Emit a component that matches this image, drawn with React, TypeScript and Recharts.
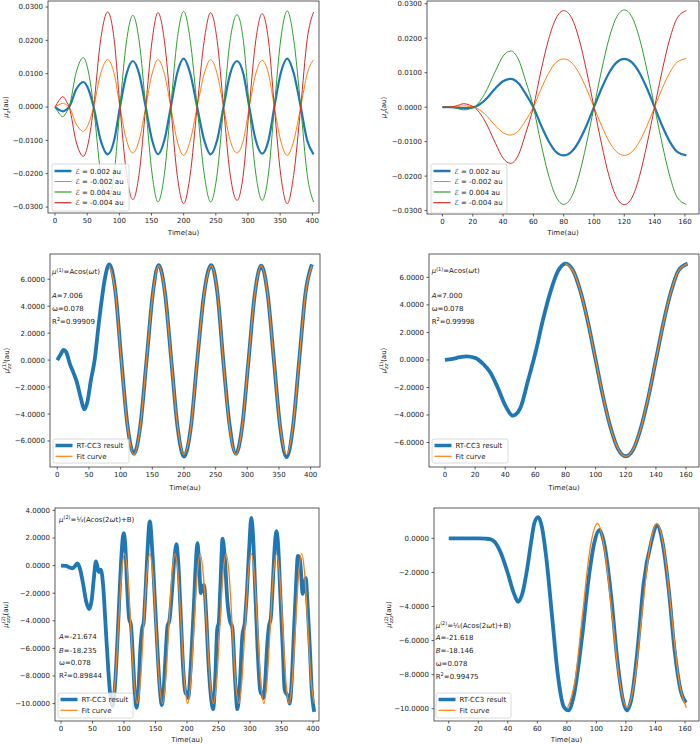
import React from 'react';
import { LineChart, Line, XAxis, YAxis } from 'recharts';

const BLUE = '#1f77b4';
const ORANGE = '#ff7f0e';
const GREEN = '#2ca02c';
const RED = '#d62728';
const FONT = '"DejaVu Sans", sans-serif';
const INK = '#222';

// ---- panel 1: mu_z, 0..400 au ----
const t1 = [0, 6, 12, 18, 22, 33, 44, 52, 60, 71, 82, 92, 101, 111, 121, 131, 141, 151, 160, 170, 180, 190, 200, 210, 221, 232, 242, 252, 262, 272, 283, 293, 302, 312, 322, 332, 341, 351, 361, 371, 382, 392, 402];
const p1Pos002 = [0, -0.0008, -0.0013, -0.0007, 0, 0.0053, 0.0075, 0.0053, 0, -0.0100, -0.0142, -0.0100, 0, 0.0098, 0.0138, 0.0098, 0, -0.0100, -0.0142, -0.0100, 0, 0.0102, 0.0145, 0.0102, 0, -0.0100, -0.0142, -0.0100, 0, 0.0098, 0.0138, 0.0098, 0, -0.0099, -0.0140, -0.0099, 0, 0.0102, 0.0145, 0.0102, 0, -0.0100, -0.0142];
const p1Neg002 = [0, 0.0007, 0.0011, 0.0006, 0, -0.0051, -0.0073, -0.0051, 0, 0.0100, 0.0142, 0.0100, 0, -0.0098, -0.0138, -0.0098, 0, 0.0100, 0.0142, 0.0100, 0, -0.0102, -0.0145, -0.0102, 0, 0.0100, 0.0142, 0.0100, 0, -0.0098, -0.0138, -0.0098, 0, 0.0099, 0.0140, 0.0099, 0, -0.0102, -0.0145, -0.0102, 0, 0.0100, 0.0142];
const p1Pos004 = [0, -0.0018, -0.0029, -0.0015, 0, 0.0105, 0.0148, 0.0105, 0, -0.0200, -0.0282, -0.0200, 0, 0.0195, 0.0275, 0.0195, 0, -0.0202, -0.0285, -0.0202, 0, 0.0203, 0.0287, 0.0203, 0, -0.0202, -0.0285, -0.0202, 0, 0.0196, 0.0277, 0.0196, 0, -0.0198, -0.0280, -0.0198, 0, 0.0204, 0.0288, 0.0204, 0, -0.0202, -0.0285];
const p1Neg004 = [0, 0.0019, 0.0031, 0.0016, 0, -0.0105, -0.0148, -0.0105, 0, 0.0202, 0.0285, 0.0202, 0, -0.0197, -0.0278, -0.0197, 0, 0.0200, 0.0283, 0.0200, 0, -0.0205, -0.0290, -0.0205, 0, 0.0200, 0.0283, 0.0200, 0, -0.0198, -0.0280, -0.0198, 0, 0.0198, 0.0280, 0.0198, 0, -0.0205, -0.0290, -0.0205, 0, 0.0202, 0.0285];

// ---- panel 2: mu_z, 0..160 au ----
const t2 = [0, 5, 10, 14, 18, 21, 28, 35, 40, 45, 50, 55, 60, 65, 70, 75, 80, 85, 90, 95, 100, 105, 110, 115, 120, 125, 130, 135, 140, 145, 150, 155, 161];
const p2Pos002 = [0, 0, -0.0002, -0.0003, -0.0002, 0, 0.0020, 0.0055, 0.0075, 0.0082, 0.0070, 0.0038, 0, -0.0052, -0.0098, -0.0130, -0.0140, -0.0130, -0.0100, -0.0054, 0, 0.0054, 0.0100, 0.0130, 0.0140, 0.0130, 0.0100, 0.0054, 0, -0.0054, -0.0100, -0.0130, -0.0140];
const p2Neg002 = [0, 0, 0.0002, 0.0004, 0.0002, 0, -0.0020, -0.0054, -0.0074, -0.0081, -0.0069, -0.0038, 0, 0.0052, 0.0098, 0.0130, 0.0140, 0.0130, 0.0100, 0.0054, 0, -0.0054, -0.0100, -0.0130, -0.0140, -0.0130, -0.0100, -0.0054, 0, 0.0054, 0.0100, 0.0131, 0.0141];
const p2Pos004 = [0, 0, -0.0004, -0.0008, -0.0005, 0, 0.0040, 0.0105, 0.0148, 0.0163, 0.0140, 0.0075, 0, -0.0105, -0.0197, -0.0260, -0.0282, -0.0262, -0.0200, -0.0107, 0, 0.0107, 0.0200, 0.0262, 0.0282, 0.0262, 0.0200, 0.0107, 0, -0.0107, -0.0200, -0.0262, -0.0282];
const p2Neg004 = [0, 0, 0.0005, 0.0010, 0.0006, 0, -0.0040, -0.0105, -0.0148, -0.0163, -0.0140, -0.0075, 0, 0.0105, 0.0196, 0.0258, 0.0280, 0.0261, 0.0200, 0.0107, 0, -0.0107, -0.0201, -0.0263, -0.0283, -0.0263, -0.0201, -0.0107, 0, 0.0106, 0.0198, 0.0259, 0.0280];

// ---- panel 3: mu(1)_zz, 0..400 au ----
const t3 = [0, 5, 10, 14, 20, 26, 31, 37, 43, 48, 53, 59, 65, 70, 75, 82, 92, 101, 111, 121, 131, 141, 151, 160, 170, 180, 190, 200, 211, 221, 232, 243, 253, 262, 272, 282, 292, 302, 312, 322, 332, 342, 352, 362, 372, 382, 392, 402];
const rt3 = [0, 0.4, 0.76, 0.6, -0.3, -1.0, -1.65, -2.8, -3.65, -3.0, -1.5, 0, 2.5, 4.4, 6.0, 7.1, 5.0, 0.1, -4.9, -6.95, -4.9, 0, 5.0, 7.05, 5.0, 0, -5.0, -7.15, -4.95, 0, 5.0, 7.05, 4.9, 0, -4.8, -6.95, -4.9, 0, 4.95, 7.0, 4.95, 0, -5.0, -7.2, -5.0, 0, 5.0, 7.1];
const fitT3 = [82, 92, 101, 111, 121, 131, 141, 151, 160, 170, 180, 190, 200, 211, 221, 232, 243, 253, 262, 272, 282, 292, 302, 312, 322, 332, 342, 352, 362, 372, 382, 392, 402];
const fit3 = [7.0, 4.95, 0, -4.95, -7.0, -4.95, 0, 4.95, 7.0, 4.95, 0, -4.95, -7.0, -4.95, 0, 4.95, 7.0, 4.95, 0, -4.95, -7.0, -4.95, 0, 4.95, 7.0, 4.95, 0, -4.95, -7.0, -4.95, 0, 4.95, 7.0];

// ---- panel 4: mu(1)_zz, 0..160 au ----
const t4 = [0, 5, 10, 14, 20, 25, 30, 35, 40, 45, 50, 55, 60, 65, 70, 75, 80, 85, 90, 95, 100, 105, 110, 115, 120, 125, 130, 135, 140, 145, 150, 155, 161];
const rt4 = [0, 0.08, 0.2, 0.26, 0.15, -0.25, -0.9, -2.0, -3.3, -4.05, -3.5, -1.55, 0.5, 2.9, 4.95, 6.45, 7.0, 6.5, 4.95, 2.7, 0, -2.7, -4.95, -6.5, -7.0, -6.5, -4.95, -2.7, 0, 2.7, 4.95, 6.5, 7.0];
const fitT4 = [80, 85, 90, 95, 100, 105, 110, 115, 120, 125, 130, 135, 140, 145, 150, 155, 161];
const fit4 = [7.0, 6.47, 4.95, 2.68, 0, -2.68, -4.95, -6.47, -7.0, -6.47, -4.95, -2.68, 0, 2.68, 4.95, 6.47, 7.0];

// ---- panel 5: mu(2)_zzz, 0..400 au ----
const t5 = [0, 8, 14, 18, 22, 26, 30, 35, 40, 45, 49, 52, 55.5, 58, 59.7, 63.4, 67, 71, 75, 79, 82, 86, 90, 93, 96, 99.5, 102, 105, 108, 111, 114, 117, 120, 123, 126, 129, 131, 134, 137, 141, 145, 149, 153, 157, 160, 163, 166, 169, 172, 176, 180, 183.4, 186, 190, 194, 198, 200, 202, 205, 208, 211, 214, 216.6, 219, 222, 224.5, 227, 230, 234, 238, 241.5, 245, 248, 250.5, 253, 256.5, 260, 264, 268, 272, 276, 280, 284, 288, 291.5, 295, 299, 302, 305, 308, 312, 316, 318, 319.5, 321, 324, 327, 330, 333, 336, 339, 342, 345, 348, 352, 355, 358, 360, 363, 366, 370, 373, 376, 379, 381, 383.5, 386, 388.5, 391, 395, 398, 402];
const rt5 = [0, -0.02, -0.15, -0.2, -0.05, 0.15, -0.2, -1.3, -2.6, -3.15, -2.4, -1.0, 0.3, -0.1, -0.45, -0.3, -1.5, -4.5, -7.5, -9.7, -10.2, -8.5, -5.0, -2.0, 0.8, 2.35, 1.5, -1.5, -3.8, -4.3, -6.5, -9.2, -10.3, -9.0, -6.0, -4.5, -4.2, -2.0, 0.8, 3.2, 1.0, -2.5, -6.0, -9.0, -10.1, -9.0, -6.5, -4.4, -4.0, -2.0, 0.5, 1.55, 0.3, -3.5, -7.5, -9.3, -9.2, -9.6, -8.0, -5.5, -2.8, 0.2, 1.62, 0.3, -2.0, -1.6, -1.4, -3.2, -7.0, -9.5, -10.4, -8.0, -4.6, -4.1, -1.5, 1.95, 0.5, -2.5, -4.0, -4.5, -8.0, -10.4, -8.5, -5.0, -4.2, -2.0, 1.5, 3.45, 2.0, -1.5, -6.0, -9.0, -9.3, -9.2, -9.6, -8.5, -6.0, -4.4, -3.8, -1.5, 1.2, 2.5, 1.2, -2.0, -6.0, -9.0, -9.3, -9.4, -10.0, -8.5, -4.5, -1.5, 0.7, 0.5, -0.5, -2.05, -1.6, -0.9, -2.5, -6.0, -9.0, -10.6];
const fitT5 = [81, 86, 91, 96, 101, 106, 111, 116, 121, 126, 131, 136, 141, 146, 151, 156, 161, 166, 171, 176, 181, 186, 191, 196, 201, 206, 211, 216, 221, 226, 231.5, 236.5, 242, 247, 252, 257, 262, 267, 272, 277, 282, 287, 292, 297, 302, 307, 312, 317, 322, 327, 332, 337, 342, 347, 352, 357, 362, 367, 372, 377, 382, 387, 392, 397, 402];
const fit5 = [-9.98, -8.39, -4.56, -0.73, 0.86, -0.73, -4.56, -8.39, -9.98, -8.39, -4.56, -0.73, 0.86, -0.73, -4.56, -8.39, -9.98, -8.39, -4.56, -0.73, 0.86, -0.73, -4.56, -8.39, -9.98, -8.39, -4.56, -0.73, 0.86, -0.73, -4.56, -8.39, -9.98, -8.39, -4.56, -0.73, 0.86, -0.73, -4.56, -8.39, -9.98, -8.39, -4.56, -0.73, 0.86, -0.73, -4.56, -8.39, -9.98, -8.39, -4.56, -0.73, 0.86, -0.73, -4.56, -8.39, -9.98, -8.39, -4.56, -0.73, 0.86, -0.73, -4.56, -8.39, -9.98];

// ---- panel 6: mu(2)_zzz, 0..160 au ----
const t6 = [0, 10, 20, 25, 28, 31, 35, 40, 44, 47, 50, 53, 56, 58, 60.6, 63, 66, 70, 74, 78, 81, 85, 90, 95, 98.5, 102, 105.5, 110, 114, 118, 120.5, 124, 128, 132, 137.5, 141, 144.5, 149, 153, 157, 160.7];
const rt6 = [0, 0, 0, -0.02, -0.05, -0.2, -0.8, -2.05, -3.2, -3.73, -3.2, -1.85, -0.1, 0.9, 1.24, 0.7, -1.1, -4.6, -8.1, -9.9, -10.1, -9.1, -6.0, -2.2, -0.3, 0.49, -0.4, -3.4, -7.0, -9.5, -10.1, -9.3, -6.4, -2.65, -0.1, 0.78, -0.1, -3.0, -6.6, -8.9, -9.65];
const fitT6 = [80.5, 85.5, 90.5, 95.5, 100.7, 105.7, 110.7, 115.7, 120.8, 125.8, 130.8, 135.8, 141, 146, 151, 156, 161];
const fit6 = [-9.94, -8.36, -4.54, -0.72, 0.87, -0.72, -4.54, -8.36, -9.94, -8.36, -4.54, -0.72, 0.87, -0.72, -4.54, -8.36, -9.94];

// tick labels
const longTicks = [0, 50, 100, 150, 200, 250, 300, 350, 400];
const shortTicks = [0, 20, 40, 60, 80, 100, 120, 140, 160];
const muTicks = [-0.03, -0.02, -0.01, 0, 0.01, 0.02, 0.03];
const mu1Ticks = [-6, -4, -2, 0, 2, 4, 6];
const mu2LongTicks = [-10, -8, -6, -4, -2, 0, 2, 4];
const mu2ShortTicks = [-10, -8, -6, -4, -2, 0];

const fieldLabels = ['\u2130 = 0.002 au', '\u2130 = -0.002 au', '\u2130 = 0.004 au', '\u2130 = -0.004 au'];

type Series = { key: string; t: number[]; v: number[] };
type Row = { t: number; [k: string]: number };

function buildRows(series: Series[]): Row[] {
  const map = new Map<number, Row>();
  series.forEach((s) =>
    s.t.forEach((t, i) => {
      const row = map.get(t) ?? { t };
      row[s.key] = s.v[i];
      map.set(t, row);
    })
  );
  return [...map.values()].sort((a, b) => a.t - b.t);
}

const fmtY = (v: number) => (v < 0 ? '\u2212' : '') + Math.abs(v).toFixed(4);
const tickStyle = { fontSize: 7, fill: INK, fontFamily: FONT };

type Box = { l: number; t: number; w: number; h: number };
type LineSpec = { key: string; color: string; width: number };

const MT = 10;
const XH = 25;

function Panel(props: {
  box: Box;
  chartLeft: number;
  rows: Row[];
  lines: LineSpec[];
  xDomain: [number, number];
  xTicks: number[];
  yDomain: [number, number];
  yTicks: number[];
}) {
  const { box, chartLeft, rows, lines, xDomain, xTicks, yDomain, yTicks } = props;
  const axisW = box.l - chartLeft;
  return (
    <div style={{ position: 'absolute', left: chartLeft, top: box.t - MT }}>
      <LineChart
        width={axisW + box.w + 1}
        height={MT + box.h + XH}
        data={rows}
        margin={{ top: MT, right: 1, bottom: 0, left: 0 }}
      >
        <XAxis
          dataKey="t"
          type="number"
          domain={xDomain}
          ticks={xTicks}
          allowDataOverflow
          interval={0}
          height={XH}
          axisLine={false}
          tickSize={2.5}
          tickMargin={3}
          tick={tickStyle}
          tickLine={{ stroke: '#333', strokeWidth: 0.8 }}
        />
        <YAxis
          type="number"
          domain={yDomain}
          ticks={yTicks}
          allowDataOverflow
          interval={0}
          width={axisW}
          axisLine={false}
          tickSize={2.5}
          tickMargin={2.5}
          tick={tickStyle}
          tickFormatter={fmtY}
          tickLine={{ stroke: '#333', strokeWidth: 0.8 }}
        />
        {lines.map((l) => (
          <Line
            key={l.key}
            dataKey={l.key}
            type="monotone"
            stroke={l.color}
            strokeWidth={l.width}
            dot={false}
            activeDot={false}
            connectNulls
            isAnimationActive={false}
          />
        ))}
      </LineChart>
    </div>
  );
}

function LegendBox({ x, y, w, h, items }: {
  x: number; y: number; w: number; h: number;
  items: { label: string; color: string; width: number; dy: number }[];
}) {
  return (
    <g>
      <rect x={x} y={y} width={w} height={h} rx={2} fill="#fff" fillOpacity={0.8} stroke="#d0d0d0" strokeWidth={0.8} />
      {items.map((it) => (
        <g key={it.label}>
          <line x1={x + 2.5} x2={x + 19.5} y1={y + it.dy} y2={y + it.dy} stroke={it.color} strokeWidth={it.width} />
          <text x={x + 23.5} y={y + it.dy + 2.5} fontSize={7} fill={INK}>{it.label}</text>
        </g>
      ))}
    </g>
  );
}

function YLabel({ cx, cy, order }: { cx: number; cy: number; order: 0 | 1 | 2 }) {
  return (
    <text x={cx} y={cy} transform={`rotate(-90 ${cx} ${cy})`} textAnchor="middle" fontSize={7} fill={INK} dy={2.5}>
      <tspan fontStyle="italic">μ</tspan>
      {order === 0 && (
        <>
          <tspan fontStyle="italic" fontSize={5} dy={1.5}>z</tspan>
          <tspan dy={-1.5}>(au)</tspan>
        </>
      )}
      {order === 1 && (
        <>
          <tspan fontSize={5} dy={-2.8}>(1)</tspan>
          <tspan fontSize={5} fontStyle="italic" dx={-7.1} dy={5}>zz</tspan>
          <tspan dx={1.8} dy={-2.2}>(au)</tspan>
        </>
      )}
      {order === 2 && (
        <>
          <tspan fontSize={5} dy={-2.8}>(2)</tspan>
          <tspan fontSize={5} fontStyle="italic" dx={-7.1} dy={5}>zzz</tspan>
          <tspan dy={-2.2}>(au)</tspan>
        </>
      )}
    </text>
  );
}

function Formula1({ x, y }: { x: number; y: number }) {
  return (
    <text x={x} y={y} fontSize={7} fill={INK}>
      <tspan fontStyle="italic">μ</tspan>
      <tspan fontSize={5} dy={-2.5}>(1)</tspan>
      <tspan dy={2.5}>=Acos(</tspan>
      <tspan fontStyle="italic">ω</tspan>
      <tspan>t)</tspan>
    </text>
  );
}

function Formula2({ x, y }: { x: number; y: number }) {
  return (
    <text x={x} y={y} fontSize={7} fill={INK}>
      <tspan fontStyle="italic">μ</tspan>
      <tspan fontSize={5} dy={-2.5}>(2)</tspan>
      <tspan dy={2.5}>=¼(Acos(2</tspan>
      <tspan fontStyle="italic">ω</tspan>
      <tspan>t)+B)</tspan>
    </text>
  );
}

function Param({ x, y, name, value, italic = true }: { x: number; y: number; name: string; value: string; italic?: boolean }) {
  return (
    <text x={x} y={y} fontSize={7} fill={INK}>
      <tspan fontStyle={italic ? 'italic' : 'normal'}>{name}</tspan>
      <tspan>={value}</tspan>
    </text>
  );
}

function R2({ x, y, value }: { x: number; y: number; value: string }) {
  return (
    <text x={x} y={y} fontSize={7} fill={INK}>
      <tspan>R</tspan>
      <tspan fontSize={5} dy={-2.5}>2</tspan>
      <tspan dy={2.5}>={value}</tspan>
    </text>
  );
}

const B1: Box = { l: 48, t: 1, w: 271, h: 212 };
const B2: Box = { l: 427, t: 1, w: 272, h: 213 };
const B3: Box = { l: 50, t: 254, w: 270, h: 213 };
const B4: Box = { l: 429, t: 254, w: 270, h: 213 };
const B5: Box = { l: 55, t: 508, w: 264, h: 213 };
const B6: Box = { l: 434, t: 508, w: 265, h: 213 };

const fieldLines: LineSpec[] = [
  { key: 'a', color: BLUE, width: 2.2 },
  { key: 'b', color: ORANGE, width: 1 },
  { key: 'c', color: GREEN, width: 1 },
  { key: 'd', color: RED, width: 1 },
];
const fitLines: LineSpec[] = [
  { key: 'rt', color: BLUE, width: 3.8 },
  { key: 'fit', color: ORANGE, width: 1.3 },
];

const fieldItems = [
  { label: fieldLabels[0], color: BLUE, width: 2.5, dy: 7 },
  { label: fieldLabels[1], color: ORANGE, width: 1, dy: 17.5 },
  { label: fieldLabels[2], color: GREEN, width: 1.2, dy: 28 },
  { label: fieldLabels[3], color: RED, width: 1.2, dy: 38.7 },
];
const fitItems = [
  { label: 'RT-CC3 result', color: BLUE, width: 3.5, dy: 6.5 },
  { label: 'Fit curve', color: ORANGE, width: 1.2, dy: 17.3 },
];

export default function App() {
  const rows1 = buildRows([
    { key: 'a', t: t1, v: p1Pos002 },
    { key: 'b', t: t1, v: p1Neg002 },
    { key: 'c', t: t1, v: p1Pos004 },
    { key: 'd', t: t1, v: p1Neg004 },
  ]);
  const rows2 = buildRows([
    { key: 'a', t: t2, v: p2Pos002 },
    { key: 'b', t: t2, v: p2Neg002 },
    { key: 'c', t: t2, v: p2Pos004 },
    { key: 'd', t: t2, v: p2Neg004 },
  ]);
  const rows3 = buildRows([{ key: 'rt', t: t3, v: rt3 }, { key: 'fit', t: fitT3, v: fit3 }]);
  const rows4 = buildRows([{ key: 'rt', t: t4, v: rt4 }, { key: 'fit', t: fitT4, v: fit4 }]);
  const rows5 = buildRows([{ key: 'rt', t: t5, v: rt5 }, { key: 'fit', t: fitT5, v: fit5 }]);
  const rows6 = buildRows([{ key: 'rt', t: t6, v: rt6 }, { key: 'fit', t: fitT6, v: fit6 }]);

  const boxes = [B1, B2, B3, B4, B5, B6];
  const xLabelY = [234.8, 234.8, 489.8, 489.8, 741.8, 741.8];

  return (
    <div style={{ position: 'absolute', left: 0, top: 0, width: 700, height: 744, overflow: 'hidden', background: '#fff', fontFamily: FONT }}>
      <Panel box={B1} chartLeft={0} rows={rows1} lines={fieldLines} xDomain={[-10.9, 410.4]} xTicks={longTicks} yDomain={[-0.0318, 0.0318]} yTicks={muTicks} />
      <Panel box={B2} chartLeft={350} rows={rows2} lines={fieldLines} xDomain={[-10.2, 169.3]} xTicks={shortTicks} yDomain={[-0.031, 0.0308]} yTicks={muTicks} />
      <Panel box={B3} chartLeft={0} rows={rows3} lines={fitLines} xDomain={[-11.5, 414.8]} xTicks={longTicks} yDomain={[-7.93, 7.87]} yTicks={mu1Ticks} />
      <Panel box={B4} chartLeft={350} rows={rows4} lines={fitLines} xDomain={[-10.6, 168.6]} xTicks={shortTicks} yDomain={[-7.78, 7.7]} yTicks={mu1Ticks} />
      <Panel box={B5} chartLeft={0} rows={rows5} lines={fitLines} xDomain={[-9.5, 409.5]} xTicks={longTicks} yDomain={[-11.26, 4.17]} yTicks={mu2LongTicks} />
      <Panel box={B6} chartLeft={350} rows={rows6} lines={fitLines} xDomain={[-10, 169.5]} xTicks={shortTicks} yDomain={[-10.72, 1.78]} yTicks={mu2ShortTicks} />

      <svg width={700} height={744} style={{ position: 'absolute', left: 0, top: 0, pointerEvents: 'none' }} fontFamily={FONT}>
        {boxes.map((b, i) => (
          <g key={i}>
            <rect x={b.l} y={b.t} width={b.w} height={b.h} fill="none" stroke="#333" strokeWidth={0.8} />
            <text x={b.l + b.w / 2} y={xLabelY[i]} textAnchor="middle" fontSize={7} fill={INK}>Time(au)</text>
          </g>
        ))}

        <YLabel cx={5.5} cy={107} order={0} />
        <YLabel cx={383.5} cy={107.5} order={0} />
        <YLabel cx={6} cy={360.5} order={1} />
        <YLabel cx={383.5} cy={360.5} order={1} />
        <YLabel cx={5.5} cy={614.5} order={2} />
        <YLabel cx={388} cy={614.5} order={2} />

        <LegendBox x={52} y={164} w={77} h={47} items={fieldItems} />
        <LegendBox x={431} y={164} w={76} h={49} items={fieldItems} />
        <LegendBox x={53} y={439} w={76} h={24} items={fitItems} />
        <LegendBox x={432} y={439} w={76} h={24} items={fitItems} />
        <LegendBox x={58} y={693} w={75} h={25} items={fitItems} />
        <LegendBox x={436} y={693} w={75} h={25} items={fitItems} />

        <Formula1 x={52} y={274.2} />
        <Param x={52} y={298.2} name="A" value="7.006" />
        <Param x={52} y={310.8} name="ω" value="0.078" italic={false} />
        <R2 x={52} y={323.5} value="0.99909" />

        <Formula1 x={431.7} y={273.2} />
        <Param x={431.7} y={298.2} name="A" value="7.000" />
        <Param x={431.7} y={310.8} name="ω" value="0.078" italic={false} />
        <R2 x={431.7} y={323.5} value="0.99998" />

        <Formula2 x={59} y={521.8} />
        <Param x={59} y={639.2} name="A" value="-21.674" />
        <Param x={59} y={652.5} name="B" value="-18.235" />
        <Param x={59} y={665.2} name="ω" value="0.078" italic={false} />
        <R2 x={59} y={678.2} value="0.89844" />

        <Formula2 x={435.7} y={627.5} />
        <Param x={435.7} y={640.2} name="A" value="-21.618" />
        <Param x={435.7} y={652.8} name="B" value="-18.146" />
        <Param x={435.7} y={665.8} name="ω" value="0.078" italic={false} />
        <R2 x={435.7} y={678.5} value="0.99475" />
      </svg>
    </div>
  );
}
